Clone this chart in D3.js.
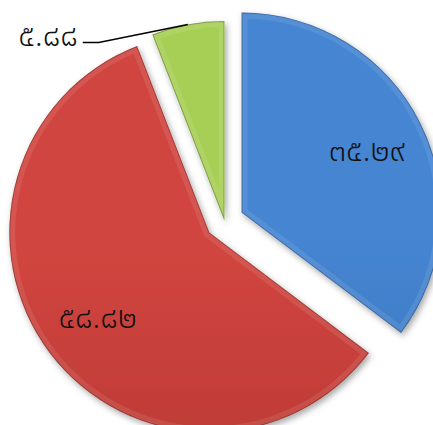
<!DOCTYPE html>
<html>
<head>
<meta charset="utf-8">
<script src="https://cdn.jsdelivr.net/npm/d3@7"></script>
<style>
  html, body { margin: 0; padding: 0; background: #fff; }
  svg { display: block; }
  text { font-family: "Noto Sans Thai", "Noto Sans", "DejaVu Sans", sans-serif; fill: #111; font-weight: 300; }
</style>
</head>
<body>
<div id="chart"></div>
<script>
// values (percent)
var labels = ["๓๕.๒๙", "๕๘.๘๒", "๕.๘๘"];
var values = [35.29, 58.82, 5.88];
var colorsTop = ["#4585d2", "#d1453f", "#a8cf55"];
var colorsBot = ["#386cb0", "#aa312d", "#86ab3a"];
var explode = [19, 19, 0];

var width = 433, height = 425;
var cx = 224.5, cy = 221, radius = 200;

var svg = d3.select('#chart').append('svg')
    .attr('width', width)
    .attr('height', height);

var defs = svg.append('defs');

var shadow = defs.append('filter')
    .attr('id', 'shadow')
    .attr('x', '-20%').attr('y', '-20%')
    .attr('width', '140%').attr('height', '140%');
shadow.append('feDropShadow')
    .attr('dx', 2).attr('dy', 3)
    .attr('stdDeviation', 3)
    .attr('flood-color', '#000')
    .attr('flood-opacity', 0.35);

values.forEach(function(v, i) {
    var g = defs.append('linearGradient')
        .attr('id', 'grad' + i)
        .attr('gradientUnits', 'userSpaceOnUse')
        .attr('x1', 0).attr('y1', cy - radius)
        .attr('x2', 0).attr('y2', cy + radius);
    g.append('stop').attr('offset', '0%').attr('stop-color', colorsTop[i]);
    g.append('stop').attr('offset', '100%').attr('stop-color', colorsBot[i]);
});

var pie = d3.pie().sort(null).value(function(d) { return d; });
var arcs = pie(values);

var arc = d3.arc().innerRadius(0).outerRadius(radius);
var labelArc = d3.arc().innerRadius(140).outerRadius(140);

var root = svg.append('g')
    .attr('transform', 'translate(' + cx + ',' + cy + ')');

var slices = root.selectAll('.slice')
    .data(arcs)
    .enter().append('g')
    .attr('class', 'slice')
    .attr('transform', function(d, i) {
        var a = (d.startAngle + d.endAngle) / 2;
        return 'translate(' + (Math.sin(a) * explode[i]) + ',' + (-Math.cos(a) * explode[i]) + ')';
    });

slices.each(function(d, i) {
    var s = d3.select(this);
    s.append('clipPath').attr('id', 'clip' + i)
        .append('path').attr('d', arc(d));

    s.append('path')
        .attr('d', arc(d))
        .attr('fill', 'url(#grad' + i + ')')
        .attr('filter', 'url(#shadow)');

    // bevel-ish rim
    s.append('path')
        .attr('d', arc(d))
        .attr('fill', 'none')
        .attr('stroke', '#fff')
        .attr('stroke-opacity', 0.09)
        .attr('stroke-width', 12)
        .attr('clip-path', 'url(#clip' + i + ')');
    s.append('path')
        .attr('d', arc(d))
        .attr('fill', 'none')
        .attr('stroke', '#000')
        .attr('stroke-opacity', 0.25)
        .attr('stroke-width', 2)
        .attr('clip-path', 'url(#clip' + i + ')');
});

// labels inside the two big slices
slices.filter(function(d, i) { return i < 2; })
    .append('text')
    .attr('transform', function(d) { return 'translate(' + labelArc.centroid(d) + ')'; })
    .attr('text-anchor', 'middle')
    .attr('dy', '0.35em')
    .style('font-size', '31px')
    .text(function(d, i) { return labels[i]; });

// small slice: label outside with a leader line
var small = arcs[2];
var mid = (small.startAngle + small.endAngle) / 2;
var p0 = [Math.sin(mid) * radius, -Math.cos(mid) * radius];
var p1 = [p0[0] - 89, p0[1] + 18];
var p2 = [p1[0] - 16, p1[1]];

root.append('path')
    .attr('d', d3.line()([p0, p1, p2]))
    .attr('fill', 'none')
    .attr('stroke', '#000')
    .attr('stroke-width', 1.5);

root.append('text')
    .attr('x', p2[0] - 5)
    .attr('y', p2[1])
    .attr('text-anchor', 'end')
    .attr('dy', '0.1em')
    .style('font-size', '31px')
    .text(labels[2]);
</script>
</body>
</html>
